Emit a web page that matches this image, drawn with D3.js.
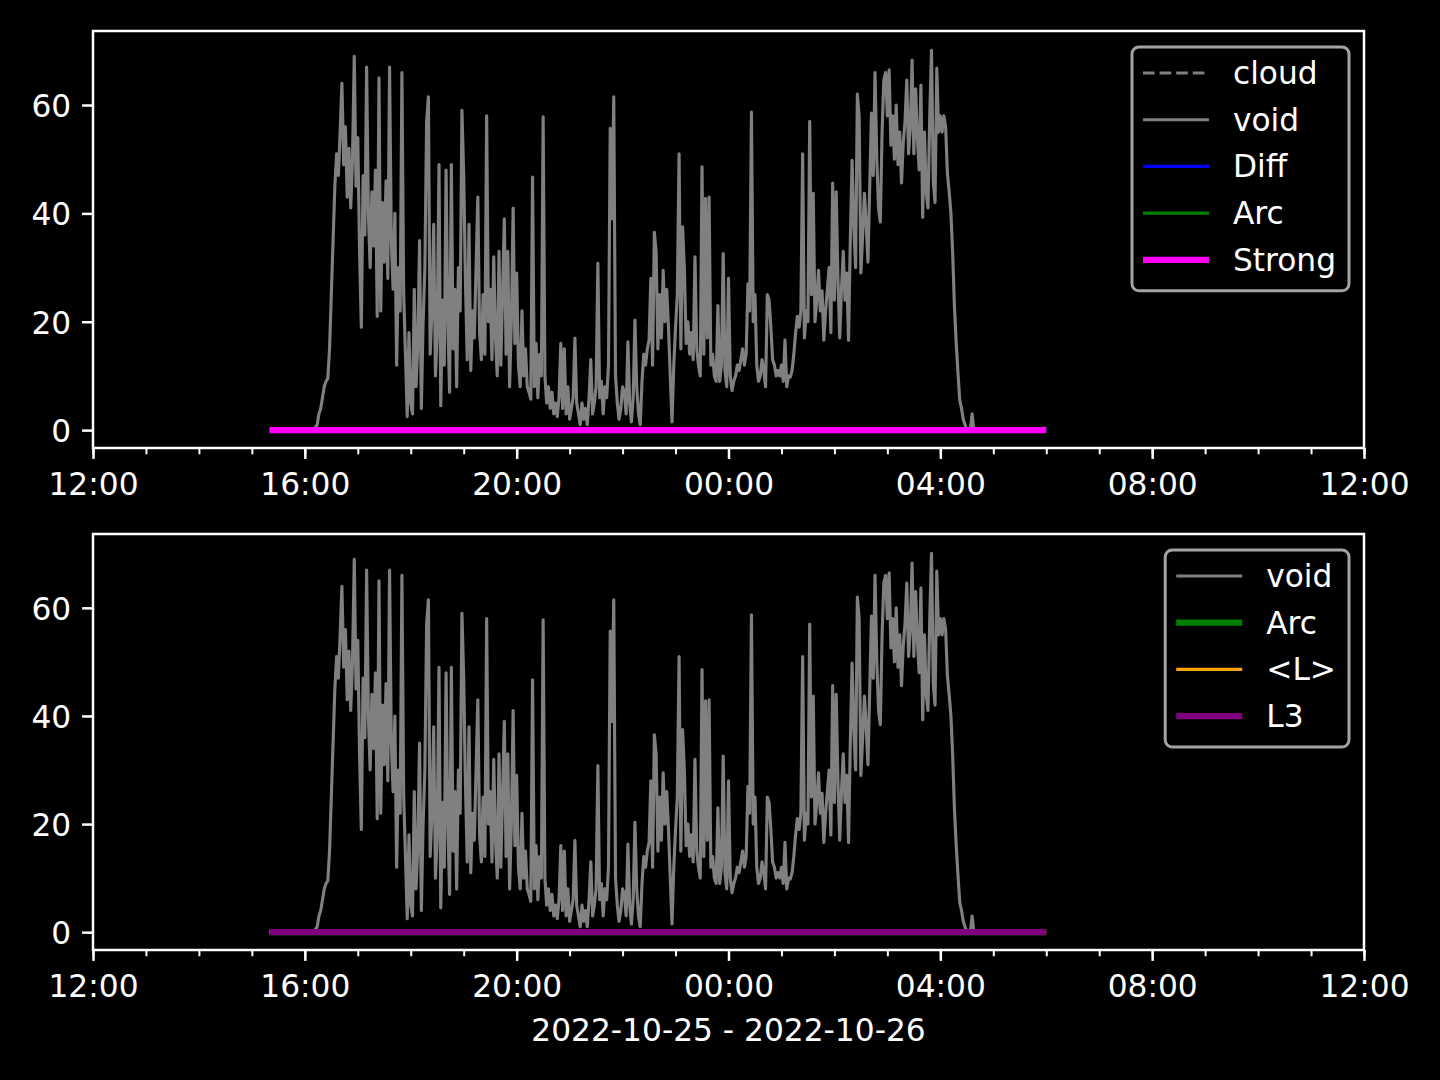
<!DOCTYPE html>
<html><head><meta charset="utf-8">
<script src="https://cdn.jsdelivr.net/npm/d3@7"></script>
<style>
html,body{margin:0;padding:0;background:#000;}
svg{display:block;}
text{font-family:"DejaVu Sans",sans-serif;fill:#fff;}
</style>
</head><body>
<svg id="chart" width="1440" height="1080"></svg>
<script>
// ---------------- data ----------------
const xDomain = ["2022-10-25T12:00", "2022-10-26T12:00"];
const yTicks = [0, 20, 40, 60];
const xLabel = "2022-10-25 - 2022-10-26";

// "void" sampled every 2 minutes starting 16:10
const voidStart = "2022-10-25T16:10";
const voidStepMin = 2;
const voidValues = [
  0, 0.5, 1, 3, 4, 6, 8, 9, 9.5, 15, 25, 35, 45,
  51, 47, 55, 64, 49, 56, 43, 52, 41, 50, 69, 45, 54, 33, 19, 47, 36, 67, 40, 30, 44, 34, 48, 21, 65, 22, 42, 31, 46, 28, 67, 35, 26, 40, 12, 30, 22, 66, 25, 14, 2.5, 18, 5,
  3, 26, 8, 16, 35, 4, 20, 30, 57, 61.5, 14, 22, 38, 10, 18, 49, 4.5, 24, 12, 48, 20, 7, 49, 15, 26, 8, 30, 22, 59, 47, 27, 13, 38, 11, 22, 17, 30, 43, 18, 13, 25, 14, 58, 20,
  26, 13, 32, 17, 10, 33, 12, 25, 39, 14, 33, 8, 20, 41, 16, 29, 12, 8, 22, 10, 15, 8, 7, 5.7,
  46.7, 8, 16, 6, 14, 10, 57.8, 10, 5, 8, 4, 7, 3, 5, 2.5, 6, 16, 4, 15, 3, 8, 2, 4, 6, 17, 5, 3, 1, 5, 2, 4, 1, 6, 13, 3, 5, 8, 30.8, 6, 9, 3, 8, 6, 12, 55.7, 39, 61.5, 10, 5, 2, 4, 8, 7, 3, 16.3, 5, 1.5, 6, 20.3, 8, 3, 1, 9, 14, 12, 15,
  16.6, 28, 12, 36.5, 33, 15, 25, 17, 29.5, 20, 26, 19, 10, 1.5, 12, 19, 25, 51, 15, 37.5, 29.8, 16, 20, 14, 18, 13, 32, 15, 12, 10, 48.6, 14, 42.8, 17, 43, 12, 14, 10, 9, 23, 9, 12, 32.6, 11, 8, 28, 10, 7.3, 9, 10, 12, 11, 13, 15, 12, 14, 27, 22, 58.7, 20, 25, 12, 9, 10, 13, 11, 8, 25,
  24, 19, 13, 12, 10, 11, 10, 12, 9, 16.6, 8, 10, 9.8, 11, 14, 18, 21, 19, 22, 51, 17, 22, 20, 57, 25, 43.7, 20, 24, 29.5, 22, 25.7, 16.6, 22, 26, 30, 18, 45.6, 24, 44, 28, 17, 26, 33, 24, 29, 16.6, 35, 49.8, 37.5, 30, 62, 58, 29, 36, 43.7, 38, 31, 45, 58.5, 47, 66, 50, 41, 38.4, 55, 64.6, 66, 58, 66.5, 52.6,
  58, 50, 60, 49, 55, 45.6, 53, 57, 64.6, 51, 56, 68.3, 51, 63, 54, 48, 63.7, 39.3, 55, 44, 41, 58, 70.1, 46, 42, 66.8, 55, 58, 55, 58, 56, 47.4, 44, 40, 32.6, 22.7, 16, 10.5, 5.5, 4, 2, 1, 0, 0, 0, 3, 0, 0, 0
];

// flat series (all zero) over 15:20 -> 06:00
const flatTimes = ["2022-10-25T15:20", "2022-10-26T06:00"];
const cloudValues = [];
const diffValues = [0, 0];
const arcValues = [0, 0];
const strongValues = [0, 0];
const lMeanValues = [0, 0];
const l3Values = [0, 0];

// ---------------- setup ----------------
const parse = d3.timeParse("%Y-%m-%dT%H:%M");
const svg = d3.select("#chart");
svg.append("rect").attr("width", 1440).attr("height", 1080).attr("fill", "#000");

const t0 = parse(voidStart);
const voidData = voidValues.map((v, i) => ({t: d3.timeMinute.offset(t0, i * voidStepMin), v}));
const flatData = vals => vals.map((v, i) => ({t: parse(flatTimes[i]), v}));

const L = 93, R = 1364;
const x = d3.scaleTime().domain(xDomain.map(parse)).range([L, R]);
const FS = 31.25;

const panels = [
  {top: 31, bottom: 448, series: [
    {name: "cloud", color: "#808080", w: 3.125, dash: "11.6,5", data: []},
    {name: "void", color: "#808080", w: 3.125, data: voidData},
    {name: "Diff", color: "#0000ff", w: 3.125, data: flatData(diffValues)},
    {name: "Arc", color: "#008000", w: 3.125, data: flatData(arcValues)},
    {name: "Strong", color: "#ff00ff", w: 6.25, data: flatData(strongValues)}
  ], xlabel: null},
  {top: 534, bottom: 950, series: [
    {name: "void", color: "#808080", w: 3.125, data: voidData},
    {name: "Arc", color: "#008000", w: 6.25, data: flatData(arcValues)},
    {name: "<L>", color: "#ffa500", w: 3.125, data: flatData(lMeanValues)},
    {name: "L3", color: "#800080", w: 6.25, data: flatData(l3Values)}
  ], xlabel: xLabel}
];

panels.forEach(p => {
  const y = d3.scaleLinear().domain([-3.3, 73.66]).range([p.bottom, p.top]);
  const g = svg.append("g");

  // lines
  const line = d3.line().x(d => x(d.t)).y(d => y(d.v));
  p.series.forEach(s => {
    if (!s.data.length) return;
    g.append("path").datum(s.data).attr("d", line)
      .attr("fill", "none").attr("stroke", s.color).attr("stroke-width", s.w)
      .attr("stroke-linejoin", "round").attr("stroke-linecap", "butt")
      .attr("stroke-dasharray", s.dash || null);
  });

  // spines
  g.append("rect").attr("x", L).attr("y", p.top).attr("width", R - L).attr("height", p.bottom - p.top)
    .attr("fill", "none").attr("stroke", "#fff").attr("stroke-width", 2.5);

  // x minor ticks
  const xMinor = d3.axisBottom(x).ticks(d3.timeHour.every(1)).tickSize(6.25).tickFormat("");
  const gm = g.append("g").attr("transform", `translate(0,${p.bottom})`).call(xMinor);
  gm.select(".domain").remove();
  gm.selectAll("line").attr("stroke", "#fff").attr("stroke-width", 2);

  // x major
  const xMajor = d3.axisBottom(x).ticks(d3.timeHour.every(4)).tickSize(10.9).tickPadding(14)
    .tickFormat(d3.timeFormat("%H:%M"));
  const gx = g.append("g").attr("transform", `translate(0,${p.bottom})`).call(xMajor);
  gx.select(".domain").remove();
  gx.selectAll("line").attr("stroke", "#fff").attr("stroke-width", 2.5);
  gx.selectAll("text").attr("fill", "#fff").style("font-size", FS + "px")
    .style("font-family", "'DejaVu Sans', sans-serif");

  // y axis
  const yAxis = d3.axisLeft(y).tickValues(yTicks).tickSize(10.9).tickPadding(10.9);
  const gy = g.append("g").attr("transform", `translate(${L},0)`).call(yAxis);
  gy.select(".domain").remove();
  gy.selectAll("line").attr("stroke", "#fff").attr("stroke-width", 2.5);
  gy.selectAll("text").attr("fill", "#fff").attr("dy", "0.36em").style("font-size", FS + "px")
    .style("font-family", "'DejaVu Sans', sans-serif");

  if (p.xlabel) {
    g.append("text").attr("x", (L + R) / 2).attr("y", 1041).attr("text-anchor", "middle")
      .style("font-size", FS + "px").text(p.xlabel);
  }

  // legend
  const lg = svg.append("g");
  const rowH = 46.7, firstOff = 26, lastPad = 31;
  const n = p.series.length;
  const texts = [];
  const measure = lg.append("g");
  let maxW = 0;
  p.series.forEach(s => {
    const t = measure.append("text").style("font-size", FS + "px").text(s.name);
    maxW = Math.max(maxW, t.node().getComputedTextLength());
    t.remove();
  });
  const boxW = 11 + 66 + 24 + maxW + 13;
  const boxR = 1349, boxL = boxR - boxW, boxT = p.top + 16;
  const boxH = firstOff + (n - 1) * rowH + lastPad;
  lg.append("rect").attr("x", boxL).attr("y", boxT).attr("width", boxW).attr("height", boxH)
    .attr("rx", 7).attr("ry", 7).attr("fill", "#000").attr("fill-opacity", 0.8)
    .attr("stroke", "#a3a3a3").attr("stroke-width", 3);
  p.series.forEach((s, i) => {
    const cy = boxT + firstOff + i * rowH;
    lg.append("line").attr("x1", boxL + 11).attr("x2", boxL + 77).attr("y1", cy).attr("y2", cy)
      .attr("stroke", s.color).attr("stroke-width", s.w).attr("stroke-dasharray", s.dash || null);
    lg.append("text").attr("x", boxL + 101).attr("y", cy + 11).style("font-size", FS + "px").text(s.name);
  });
});
</script>
</body></html>
